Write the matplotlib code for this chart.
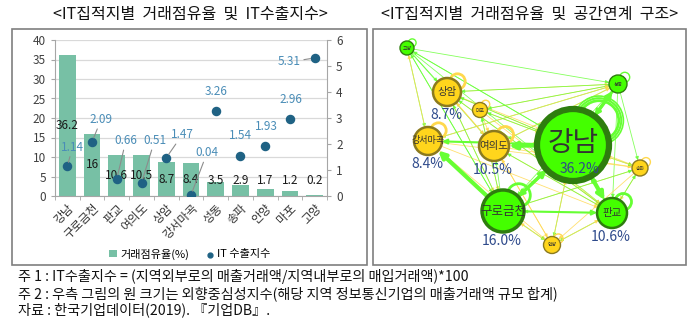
import numpy as np
import matplotlib
matplotlib.use("Agg")
import matplotlib.pyplot as plt
from matplotlib.patches import Rectangle, Circle, FancyArrowPatch

plt.rcParams['font.family'] = ['Noto Sans CJK KR', 'DejaVu Sans']

# --- left chart data ---
regions = ["강남", "구로금천", "판교", "여의도", "상암", "강서마곡",
           "성동", "송파", "안양", "마포", "고양"]
trade_share = [36.2, 16, 10.6, 10.5, 8.7, 8.4, 3.5, 2.9, 1.7, 1.2, 0.2]
it_export = [1.14, 2.09, 0.66, 0.51, 1.47, 0.04, 3.26, 1.54, 1.93, 2.96, 5.31]

# --- right chart (network) data ---
node_names = ["고양", "상암", "마포", "성동", "강서마곡", "여의도",
              "강남", "송파", "구로금천", "판교", "안양"]
node_x = [35, 75, 108, 246, 56, 122, 201, 268, 131, 240, 180]
node_y = [20, 64, 82, 56, 113, 118, 117, 140, 183, 185, 217]
node_size = [7, 14, 7.5, 9, 14, 15, 36, 8, 21, 15, 8.5]
node_green = [1, 0, 0, 1, 0, 0, 1, 0, 1, 1, 0]
node_pct = ["", "8.7%", "", "", "8.4%", "10.5%", "36.2%", "", "16.0%", "10.6%", ""]

edge_src = ["고양", "고양", "고양", "고양", "고양", "고양", "고양",
            "강서마곡", "상암", "상암", "상암", "상암", "상암", "상암",
            "마포", "마포", "마포", "마포", "마포",
            "성동", "성동", "성동", "성동", "성동", "성동", "성동",
            "강서마곡", "강서마곡", "강서마곡", "강서마곡", "강서마곡",
            "여의도", "여의도", "여의도", "여의도", "여의도", "여의도",
            "강남", "강남", "강남", "강남", "강남",
            "송파", "송파", "송파", "송파",
            "구로금천", "구로금천", "구로금천", "구로금천", "구로금천", "구로금천",
            "판교", "판교", "판교", "판교", "판교",
            "안양", "안양", "안양", "안양",
            "강남", "구로금천", "구로금천", "강남", "판교", "구로금천",
            "강남", "강남", "강남", "성동"]
edge_dst = ["성동", "상암", "강서마곡", "여의도", "강남", "구로금천", "판교",
            "고양", "성동", "강남", "여의도", "구로금천", "판교", "송파",
            "강남", "성동", "구로금천", "판교", "여의도",
            "상암", "강서마곡", "여의도", "마포", "구로금천", "판교", "송파",
            "강남", "성동", "판교", "안양", "송파",
            "강남", "판교", "안양", "송파", "성동", "상암",
            "상암", "마포", "송파", "안양", "고양",
            "판교", "구로금천", "강남", "안양",
            "상암", "고양", "여의도", "송파", "안양", "마포",
            "안양", "송파", "여의도", "상암", "구로금천",
            "구로금천", "판교", "여의도", "강남",
            "구로금천", "강남", "강서마곡", "판교", "강남", "판교",
            "여의도", "강서마곡", "성동", "강남"]
edge_w = [0.6] * 61 + [2.0, 2.5, 3.0, 3.0, 1.5, 1.5, 3.0, 1.5, 2.5, 2.0]

notes = ["주 1 : IT수출지수 = (지역외부로의 매출거래액/지역내부로의 매입거래액)*100",
         "주 2 : 우측 그림의 원 크기는 외향중심성지수(해당 지역 정보통신기업의 매출거래액 규모 합계)",
         "자료 : 한국기업데이터(2019). 『기업DB』."]

W, H = 700, 328
fig = plt.figure(figsize=(W / 100, H / 100), dpi=100)


def fx(x):
    return x / W


def fy(y):
    return 1 - y / H


# panel frames
fig.patches.append(Rectangle((fx(12), fy(265)), fx(355), 236 / H, transform=fig.transFigure,
                             fill=False, edgecolor="#7f7f7f", linewidth=1.2))
fig.patches.append(Rectangle((fx(373), fy(265)), fx(313), 236 / H, transform=fig.transFigure,
                             fill=False, edgecolor="#7f7f7f", linewidth=1.2))

fig.text(fx(190), fy(14), "<IT집적지별  거래점유율  및  IT수출지수>", ha="center", va="center",
         fontsize=11.5, color="#111111")
fig.text(fx(530), fy(14), "<IT집적지별  거래점유율  및  공간연계  구조>", ha="center", va="center",
         fontsize=11.5, color="#111111")

# ---------------- left: bar + dot chart ----------------
ax = fig.add_axes([fx(55), fy(196), 272 / W, 156 / H])
xs = np.arange(len(regions))
bars = ax.bar(xs, trade_share, width=0.68, color="#77C0A5", zorder=2, label="거래점유율(%)")
ax.set_xlim(-0.5, len(regions) - 0.5)
ax.set_ylim(0, 40)
ax.set_yticks(range(0, 41, 5))
ax.grid(axis="y", color="#d9d9d9", linewidth=0.9, zorder=0)
ax.set_axisbelow(True)
for s in ["top", "right"]:
    ax.spines[s].set_visible(False)
ax.spines["left"].set_color("#a6a6a6")
ax.spines["bottom"].set_color("#a6a6a6")
ax.tick_params(axis="y", labelsize=8.5, colors="#404040", length=3, color="#a6a6a6")
ax.set_xticks(xs)
ax.set_xticklabels(regions, rotation=45, ha="right", rotation_mode="anchor",
                   fontsize=8.5, color="#333333")
ax.tick_params(axis="x", length=0, pad=4)
ax.set_xticks(np.arange(-0.5, len(regions), 1), minor=True)
ax.tick_params(axis="x", which="minor", length=3, color="#a6a6a6")

for i, v in enumerate(trade_share):
    ax.text(i, max(v / 2, 4.1), f"{v:g}", ha="center", va="center", fontsize=8.5,
            color="#1a1a1a", zorder=4)

ax2 = ax.twinx()
ax2.set_ylim(0, 6)
ax2.set_yticks(range(0, 7))
for s in ["top", "left", "bottom"]:
    ax2.spines[s].set_visible(False)
ax2.spines["right"].set_color("#a6a6a6")
ax2.tick_params(axis="y", labelsize=8.5, colors="#404040", length=3, color="#a6a6a6")
dots = ax2.scatter(xs, it_export, s=34, color="#1F6284", zorder=5, label="IT 수출지수")

# label offsets in pixels (dx, dy down), and whether a leader line is drawn
lab_off = [(5, -19), (9, -22), (9, -38), (13, -42), (16, -23), (16, -42),
           (0, -20), (0, -20), (1, -19), (1, -20), (-25, 4)]
lab_line = [1, 1, 1, 1, 1, 1, 0, 0, 0, 0, 1]
for i, v in enumerate(it_export):
    dx, dy = lab_off[i]
    props = dict(arrowstyle="-", color="#8c8c8c", lw=0.8, shrinkA=0, shrinkB=3) if lab_line[i] else None
    ax2.annotate(f"{v:.2f}", (i, v), xytext=(dx * 0.72, -dy * 0.72), textcoords="offset points",
                 ha="center", va="center", fontsize=8.5, color="#4A8DB7",
                 arrowprops=props, zorder=6)

fig.legend(handles=[bars, dots], labels=["거래점유율(%)", "IT 수출지수"],
           loc="center", bbox_to_anchor=(fx(190), fy(254)), ncol=2, frameon=False,
           fontsize=8, handlelength=0.7, handletextpad=0.3, columnspacing=1.5,
           markerscale=0.6)

# ---------------- right: network ----------------
nx_ax = fig.add_axes([fx(372), fy(264), 314 / W, 236 / H])
nx_ax.set_xlim(0, 314)
nx_ax.set_ylim(236, 0)
nx_ax.set_aspect("equal")
nx_ax.axis("off")

GREEN, GREEN_EDGE = "#44FF00", "#2E7D0E"
YELLOW, YELLOW_EDGE = "#FFD51C", "#8B7A1E"
LINE_G, LINE_Y = "#66FF33", "#FFD84D"

idx = {n: i for i, n in enumerate(node_names)}

for s, d, w in zip(edge_src, edge_dst, edge_w):
    a, b = idx[s], idx[d]
    p = np.array([node_x[a], node_y[a]], float)
    q = np.array([node_x[b], node_y[b]], float)
    u = (q - p) / np.linalg.norm(q - p)
    p0 = p + u * node_size[a]
    q0 = q - u * node_size[b]
    col = LINE_G if node_green[a] else LINE_Y
    arr = FancyArrowPatch(p0, q0, arrowstyle="-|>", mutation_scale=4 + w * 2,
                          color=col, linewidth=w, alpha=0.8 if w < 1 else 1.0,
                          shrinkA=0, shrinkB=0, zorder=2 if w < 1 else 3)
    nx_ax.add_patch(arr)

# self loops
for i, n in enumerate(node_names):
    r = node_size[i]
    col = LINE_G if node_green[i] else LINE_Y
    if n == "강남":
        for k, lw in zip([0.55, 0.62, 0.68], [2.0, 1.5, 1.2]):
            nx_ax.add_patch(Circle((node_x[i] + 0.72 * r, node_y[i] - 0.68 * r), k * r,
                                   fill=False, edgecolor=col, linewidth=lw, zorder=3))
    else:
        lw = 2.0 if r > 12 else 1.0
        nx_ax.add_patch(Circle((node_x[i] + 0.75 * r, node_y[i] - 0.75 * r), 0.55 * r,
                               fill=False, edgecolor=col, linewidth=lw, zorder=3))

for i, n in enumerate(node_names):
    r = node_size[i]
    fc, ec = (GREEN, GREEN_EDGE) if node_green[i] else (YELLOW, YELLOW_EDGE)
    lw = 4.5 if r > 30 else (2.5 if r > 18 else (1.8 if r > 12 else 1.0))
    nx_ax.add_patch(Circle((node_x[i], node_y[i]), r, facecolor=fc, edgecolor=ec,
                           linewidth=lw, zorder=4))
    fs = 20 if r > 30 else (9 if r > 18 else (7.5 if r > 12 else 3.5))
    if n == "강서마곡":
        fs = 6.5
    ty = node_y[i] - 2 if n == "강남" else node_y[i]
    nx_ax.text(node_x[i], ty, n, ha="center", va="center", fontsize=fs,
               color="#333333", zorder=5)
    if node_pct[i]:
        if n == "강남":
            px, py = node_x[i] + 7, node_y[i] + 24
        else:
            px, py = node_x[i] - 1, node_y[i] + r + 9
        nx_ax.text(px, py, node_pct[i], ha="center", va="center", fontsize=10,
                   color="#2E4A8B", zorder=6)

# ---------------- notes ----------------
for k, t in enumerate(notes):
    fig.text(fx(18), fy(277 + 16.5 * k), t, ha="left", va="center", fontsize=10.2,
             color="#111111")

fig.savefig("out.png", dpi=100)
